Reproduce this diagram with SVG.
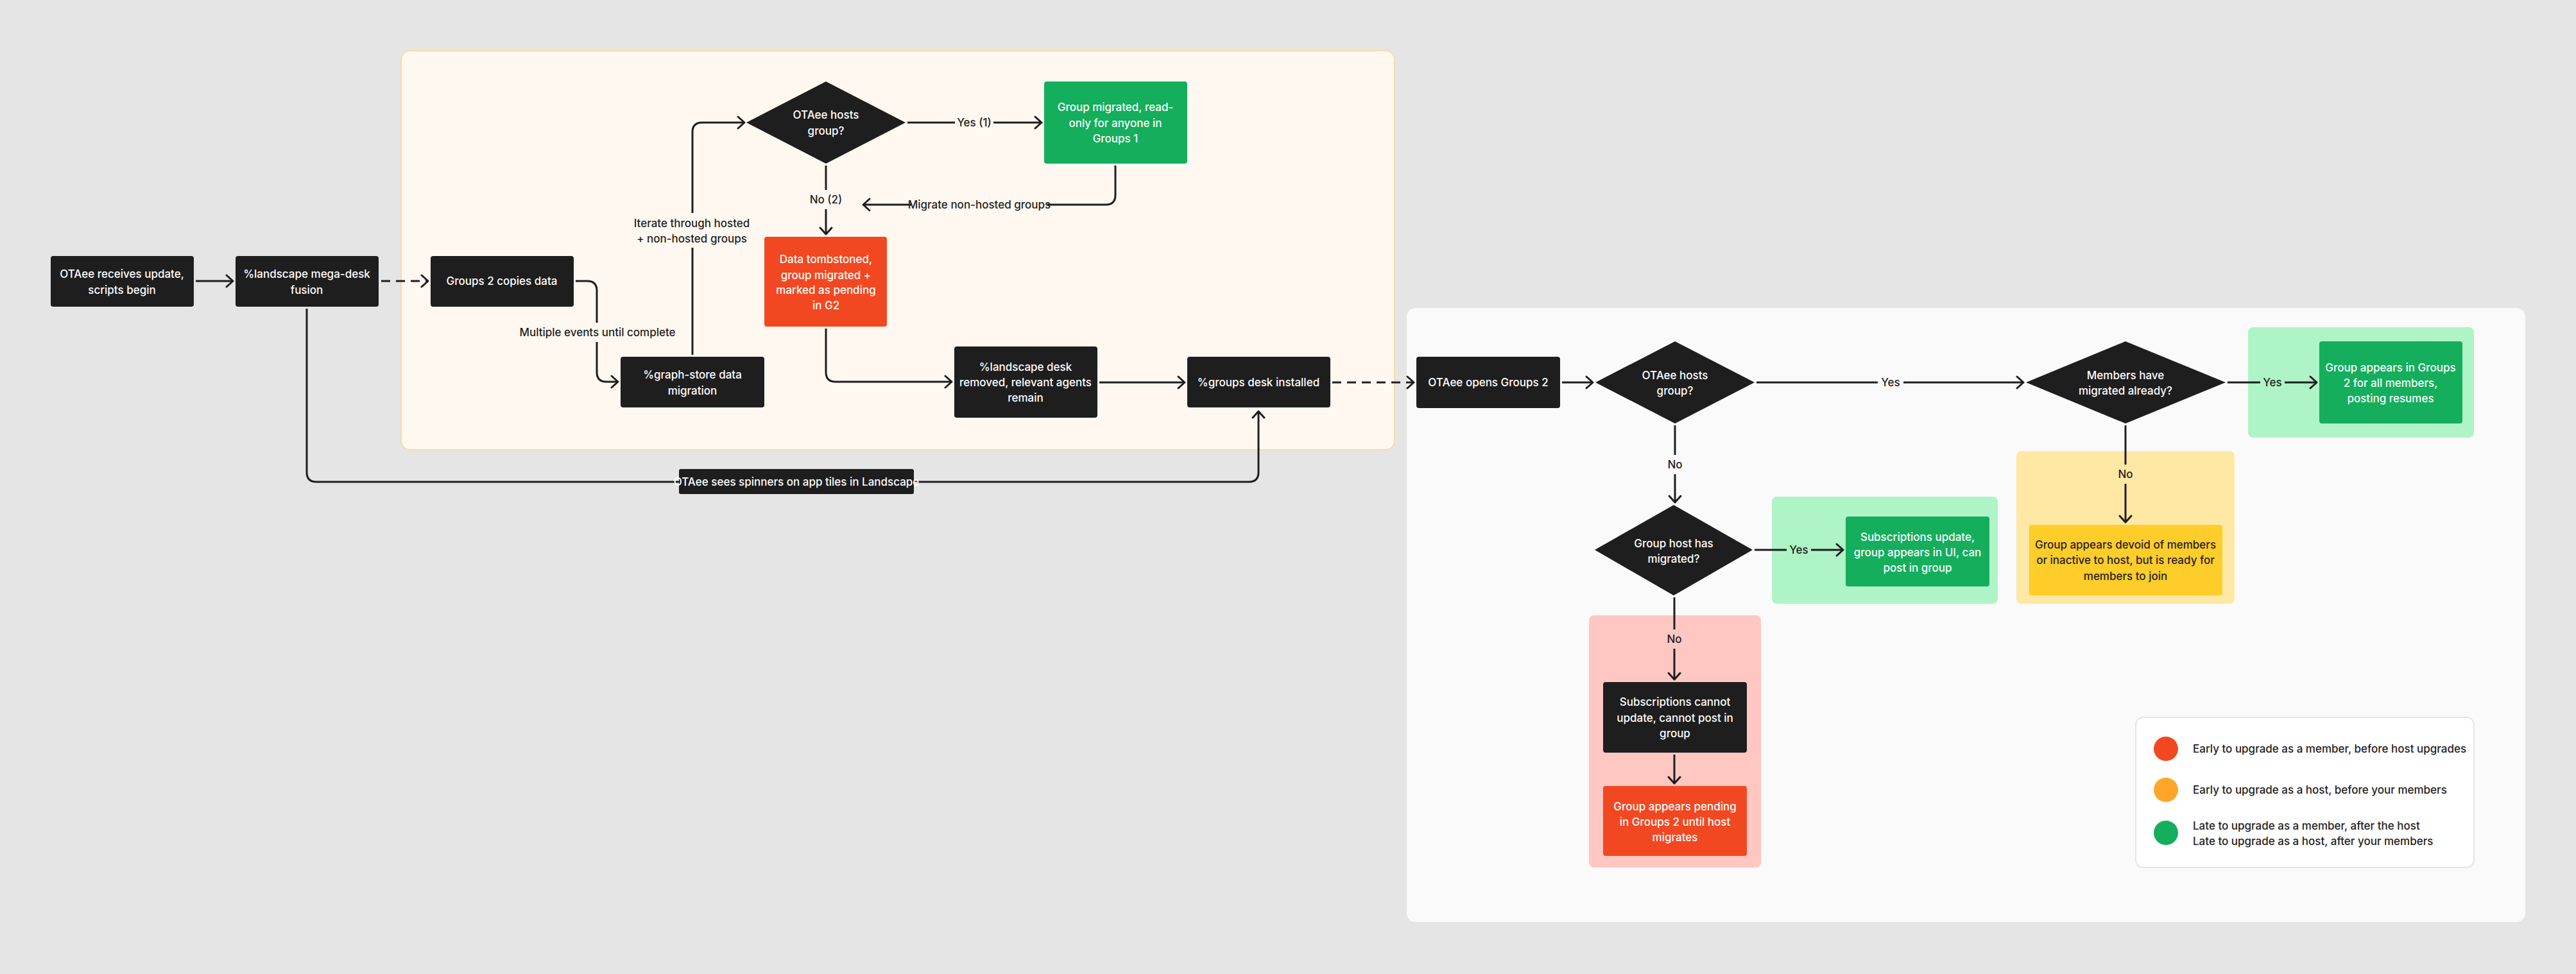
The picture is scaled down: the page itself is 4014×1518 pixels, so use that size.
<svg xmlns="http://www.w3.org/2000/svg" width="4014" height="1518" viewBox="0 0 4014 1518">
<defs>
<marker id="ah" viewBox="0 0 14 22" refX="12" refY="11" markerWidth="14" markerHeight="22" markerUnits="userSpaceOnUse" orient="auto"><path d="M2,2 L12,11 L2,20" fill="none" stroke="#1e1e1e" stroke-width="3" stroke-linecap="round" stroke-linejoin="round"/></marker>
</defs>
<style>
text{font-family:Inter,"Liberation Sans",sans-serif;font-size:17px;text-anchor:middle;font-weight:500}
.w{fill:#fff}.d{fill:#1e1e1e}
.blk{fill:#1e1e1e}.grn{fill:#14ae5c}.red{fill:#f24822}.yel{fill:#ffcd29}
.c{fill:none;stroke:#1e1e1e;stroke-width:3}
.dash{stroke-dasharray:14 9}
.lg{text-anchor:start}
</style>
<rect width="4014" height="1518" fill="#e5e5e5"/>
<rect x="625" y="79" width="1548" height="622" rx="14" fill="#fff8f1" stroke="#fcd9a8" stroke-width="2"/>
<rect x="2192" y="480" width="1743" height="957" rx="14" fill="#fafafa"/>
<rect x="2761" y="774" width="352" height="167" rx="8" fill="#aff4c6"/>
<rect x="3503" y="510" width="352" height="172" rx="8" fill="#aff4c6"/>
<rect x="3142" y="703" width="340" height="238" rx="8" fill="#ffe8a3"/>
<rect x="2476" y="959" width="268" height="393" rx="8" fill="#ffc7c2"/>

<g id="connectors">
<path class="c" d="M305,438 H363" marker-end="url(#ah)"/>
<path class="c dash" d="M594,438 H667" marker-end="url(#ah)"/>
<path class="c" d="M897,438 H915 Q930,438 930,453 V580 Q930,595 945,595 H963" marker-end="url(#ah)"/>
<path class="c" d="M1079,553 V206 Q1079,191 1094,191 H1160" marker-end="url(#ah)"/>
<path class="c" d="M1414,191 H1623" marker-end="url(#ah)"/>
<path class="c" d="M1287,258 V365" marker-end="url(#ah)"/>
<path class="c" d="M1738,258 V304 Q1738,319 1723,319 H1345" marker-end="url(#ah)"/>
<path class="c" d="M1287,512 V580 Q1287,595 1302,595 H1483" marker-end="url(#ah)"/>
<path class="c" d="M1713,596 H1846" marker-end="url(#ah)"/>
<path class="c dash" d="M2076,596 H2203" marker-end="url(#ah)"/>
<path class="c" d="M478,481 V736 Q478,751 493,751 H1058"/>
<path class="c" d="M1424,751 H1946 Q1961,751 1961,736 V641" marker-end="url(#ah)"/>
<path class="c" d="M2434,596 H2482" marker-end="url(#ah)"/>
<path class="c" d="M2737,596 H3153" marker-end="url(#ah)"/>
<path class="c" d="M2610,663 V783" marker-end="url(#ah)"/>
<path class="c" d="M3471,596 H3610" marker-end="url(#ah)"/>
<path class="c" d="M3312,663 V814" marker-end="url(#ah)"/>
<path class="c" d="M2734,857 H2872" marker-end="url(#ah)"/>
<path class="c" d="M2609,931 V1059" marker-end="url(#ah)"/>
<path class="c" d="M2609,1176 V1221" marker-end="url(#ah)"/>
<!-- labels -->
<rect x="812" y="503" width="238" height="30" fill="#fff8f1"/><text class="d" x="931" y="524">Multiple events until complete</text>
<rect x="990" y="332" width="178" height="54" fill="#fff8f1"/><text class="d" x="1078" y="354">Iterate through hosted</text><text class="d" x="1078" y="378">+ non-hosted groups</text>
<rect x="1488" y="176" width="60" height="30" fill="#fff8f1"/><text class="d" x="1518" y="197">Yes (1)</text>
<rect x="1257" y="296" width="60" height="30" fill="#fff8f1"/><text class="d" x="1287" y="317">No (2)</text>
<rect x="1420" y="304" width="212" height="30" fill="#fff8f1"/><text class="d" x="1526" y="325">Migrate non-hosted groups</text>
<rect x="2926" y="581" width="40" height="30" fill="#fafafa"/><text class="d" x="2946" y="602">Yes</text>
<rect x="2592" y="709" width="36" height="30" fill="#fafafa"/><text class="d" x="2610" y="730">No</text>
<rect x="3522" y="581" width="38" height="30" fill="#aff4c6"/><text class="d" x="3541" y="602">Yes</text>
<rect x="3294" y="724" width="36" height="30" fill="#ffe8a3"/><text class="d" x="3312" y="745">No</text>
<rect x="2784" y="842" width="38" height="30" fill="#aff4c6"/><text class="d" x="2803" y="863">Yes</text>
<rect x="2591" y="981" width="36" height="30" fill="#ffc7c2"/><text class="d" x="2609" y="1002">No</text>
</g>

<g id="n1"><rect class="blk" x="79" y="399" width="223" height="79" rx="4"/><text class="w" x="190" y="433">OTAee receives update,</text><text class="w" x="190" y="458">scripts begin</text></g>
<g id="n2"><rect class="blk" x="367" y="399" width="223" height="79" rx="4"/><text class="w" x="478" y="433">%landscape mega-desk</text><text class="w" x="478" y="458">fusion</text></g>
<g id="n3"><rect class="blk" x="671" y="399" width="223" height="79" rx="4"/><text class="w" x="782" y="444">Groups 2 copies data</text></g>
<g id="n4"><rect class="blk" x="967" y="556" width="224" height="79" rx="4"/><text class="w" x="1079" y="590">%graph-store data</text><text class="w" x="1079" y="615">migration</text></g>
<g id="d1"><polygon class="blk" points="1287,127 1411,191 1287,255 1163,191"/><text class="w" x="1287" y="185">OTAee hosts</text><text class="w" x="1287" y="210">group?</text></g>
<g id="g1"><rect class="grn" x="1627" y="127" width="223" height="128" rx="4"/><text class="w" x="1738" y="173">Group migrated, read-</text><text class="w" x="1738" y="198">only for anyone in</text><text class="w" x="1738" y="222">Groups 1</text></g>
<g id="r1"><rect class="red" x="1191" y="369" width="191" height="140" rx="4"/><text class="w" x="1287" y="410">Data tombstoned,</text><text class="w" x="1287" y="435">group migrated +</text><text class="w" x="1287" y="458">marked as pending</text><text class="w" x="1287" y="482">in G2</text></g>
<g id="n5"><rect class="blk" x="1487" y="540" width="223" height="111" rx="4"/><text class="w" x="1598" y="578">%landscape desk</text><text class="w" x="1598" y="602">removed, relevant agents</text><text class="w" x="1598" y="626">remain</text></g>
<g id="n6"><rect class="blk" x="1850" y="556" width="223" height="79" rx="4"/><text class="w" x="1961" y="602">%groups desk installed</text></g>
<g id="spin"><rect class="blk" x="1058" y="731" width="366" height="39" rx="3"/><text class="w" x="1241" y="757">OTAee sees spinners on app tiles in Landscape</text></g>
<g id="n7"><rect class="blk" x="2207" y="556" width="224" height="80" rx="4"/><text class="w" x="2319" y="602">OTAee opens Groups 2</text></g>
<g id="d2"><polygon class="blk" points="2610,532 2734,596 2610,660 2486,596"/><text class="w" x="2610" y="591">OTAee hosts</text><text class="w" x="2610" y="615">group?</text></g>
<g id="d3"><polygon class="blk" points="3312,532 3468,596 3312,660 3157,596"/><text class="w" x="3312" y="591">Members have</text><text class="w" x="3312" y="615">migrated already?</text></g>
<g id="g2"><rect class="grn" x="3614" y="532" width="223" height="128" rx="4"/><text class="w" x="3725" y="579">Group appears in Groups</text><text class="w" x="3725" y="603">2 for all members,</text><text class="w" x="3725" y="627">posting resumes</text></g>
<g id="y1"><rect class="yel" x="3162" y="818" width="301" height="110" rx="4"/><text class="d" x="3312" y="855">Group appears devoid of members</text><text class="d" x="3312" y="879">or inactive to host, but is ready for</text><text class="d" x="3312" y="904">members to join</text></g>
<g id="d4"><polygon class="blk" points="2608,787 2731,857 2608,928 2485,857"/><text class="w" x="2608" y="853">Group host has</text><text class="w" x="2608" y="877">migrated?</text></g>
<g id="g3"><rect class="grn" x="2876" y="805" width="224" height="109" rx="4"/><text class="w" x="2988" y="843">Subscriptions update,</text><text class="w" x="2988" y="867">group appears in UI, can</text><text class="w" x="2988" y="891">post in group</text></g>
<g id="n8"><rect class="blk" x="2498" y="1063" width="224" height="110" rx="4"/><text class="w" x="2610" y="1100">Subscriptions cannot</text><text class="w" x="2610" y="1125">update, cannot post in</text><text class="w" x="2610" y="1149">group</text></g>
<g id="r2"><rect class="red" x="2498" y="1225" width="224" height="109" rx="4"/><text class="w" x="2610" y="1263">Group appears pending</text><text class="w" x="2610" y="1287">in Groups 2 until host</text><text class="w" x="2610" y="1311">migrates</text></g>
<g id="legend"><rect x="3328" y="1118" width="527" height="234" rx="12" fill="#fff" stroke="#e5e5e5" stroke-width="2"/>
<circle cx="3375" cy="1167" r="19" fill="#f24822"/><circle cx="3375" cy="1231" r="19" fill="#ffa629"/><circle cx="3375" cy="1298" r="19" fill="#14ae5c"/>
<text class="d lg" x="3417" y="1173">Early to upgrade as a member, before host upgrades</text>
<text class="d lg" x="3417" y="1237">Early to upgrade as a host, before your members</text>
<text class="d lg" x="3417" y="1293">Late to upgrade as a member, after the host</text>
<text class="d lg" x="3417" y="1317">Late to upgrade as a host, after your members</text></g>
</svg>
